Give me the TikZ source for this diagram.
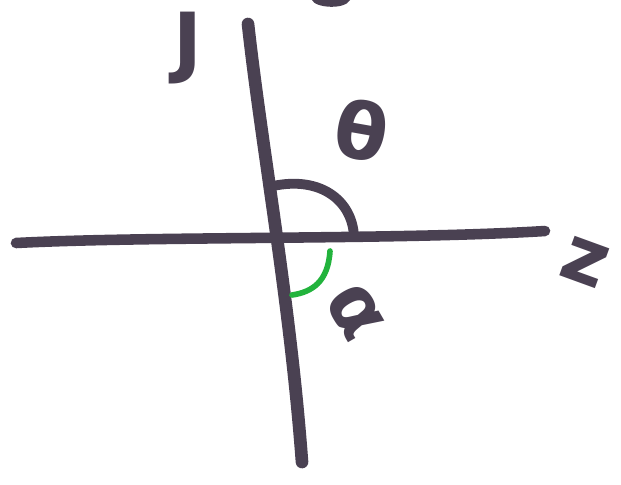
\documentclass[tikz,border=0pt]{standalone}
\usepackage{fontspec}
\setmainfont{DejaVu Sans}
\begin{document}
\begin{tikzpicture}[x=0.01cm,y=-0.01cm,
  ink/.style={draw=inkc,line cap=round,line join=round},
  lbl/.style={text=inkc,font=\bfseries\fontsize{22}{24}\selectfont,inner sep=0pt}]
\definecolor{inkc}{HTML}{4A4152}
\definecolor{grn}{HTML}{22B33C}
\useasboundingbox (0,0) rectangle (621,484);
\fill[white] (0,0) rectangle (621,484);
% axes
\coordinate (vt) at (248,24);
\coordinate (vb) at (302,462);
\coordinate (hl) at (16,243);
\coordinate (hr) at (545,231);
\draw[ink,line width=3.6pt] (vt) .. controls (262,150) and (290,300) .. (vb);
\draw[ink,line width=3pt] (hl) .. controls (150,236) and (400,240) .. (hr);
% upper arc
\coordinate (a1) at (273,186);
\coordinate (a2) at (354,236);
\draw[ink,line width=2.8pt] (a1) .. controls (320,176) and (352,200) .. (a2);
% green arc
\coordinate (g1) at (330,251);
\coordinate (g2) at (292,295);
\draw[draw=grn,line width=1.6pt,line cap=round] (g1) .. controls (328,282) and (312,292) .. (g2);
% labels
\node[lbl] (lj) at (188,48) {J};
\node[lbl,rotate=-10] (lt) at (362,130) {θ};
\node[lbl,rotate=-60] (la) at (355,312) {α};
\node[lbl,rotate=-20] (lz) at (585,262) {z};
% top partial mark
\fill[inkc] (312,0) .. controls (315,8) and (345,10) .. (350,0) -- cycle;
\end{tikzpicture}
\end{document}
